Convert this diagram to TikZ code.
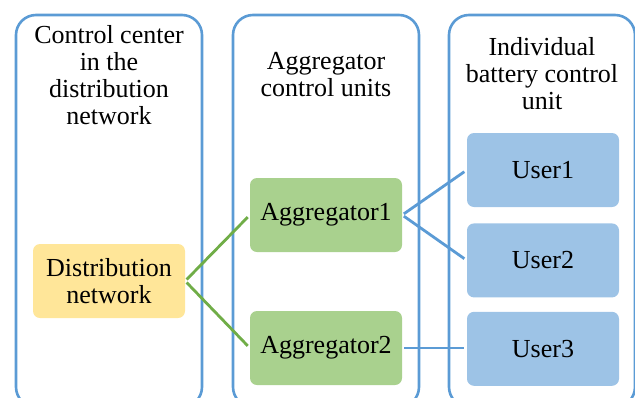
\documentclass[tikz,border=0pt]{standalone}
\usepackage{fontspec}
\setmainfont{Liberation Serif}
\usetikzlibrary{positioning}
\definecolor{frameblue}{HTML}{5B9BD5}
\definecolor{linegreen}{HTML}{70AD47}
\definecolor{distyellow}{HTML}{FFE699}
\definecolor{agggreen}{HTML}{A9D18E}
\definecolor{userblue}{HTML}{9DC3E6}

\begin{document}
\begin{tikzpicture}
    [x=1pt, y=-1pt,
    node distance=15pt,
    column/.style={draw=frameblue, line width=2.6pt, rounded corners=20pt, minimum width=186pt, minimum height=392pt},
    title/.style={anchor=north, align=center, inner sep=0pt, font=\fontsize{26}{27}\selectfont},
    unit/.style={rounded corners=7pt, minimum width=152pt, minimum height=74pt, align=center, inner sep=0pt, font=\fontsize{26}{27}\selectfont},
    greenlink/.style={draw=linegreen, line width=2.8pt, shorten <=2pt, shorten >=3pt},
    bluelink/.style={draw=frameblue, line width=2.8pt, shorten <=2pt, shorten >=3pt}]
        \useasboundingbox (0,0) rectangle (635,397);

        %% columns
        \node[column] (C1) at (109,211) {};
        \node[column] (C2) at (326,211) {};
        \node[column] (C3) at (542,211) {};
        \node[title] (T1) at (109,25) {Control center\\in the\\distribution\\network};
        \node[title] (T2) at (326,52) {Aggregator\\control units};
        \node[title] (T3) at (542,37) {Individual\\battery control\\unit};

        %% units
        \node[unit, fill=distyellow] (D) at (109,281) {Distribution\\network};
        \node[unit, fill=agggreen] (A1) at (326,215) {Aggregator1};
        \node[unit, fill=agggreen] (A2) at (326,348) {Aggregator2};
        \node[unit, fill=userblue] (U1) at (543,170) {User1};
        \node[unit, fill=userblue, below=16pt of U1] (U2) {User2};
        \node[unit, fill=userblue, below=14pt of U2] (U3) {User3};

        \draw[greenlink] (D.east) -- (A1.west);
        \draw[greenlink] (D.east) -- (A2.west);
        \draw[bluelink] (A1.east) -- (U1.west);
        \draw[bluelink] (A1.east) -- (U2.west);
        \draw[bluelink] (A2.east) -- (A2.east -| U3.west);
    \end{tikzpicture}
\end{document}
